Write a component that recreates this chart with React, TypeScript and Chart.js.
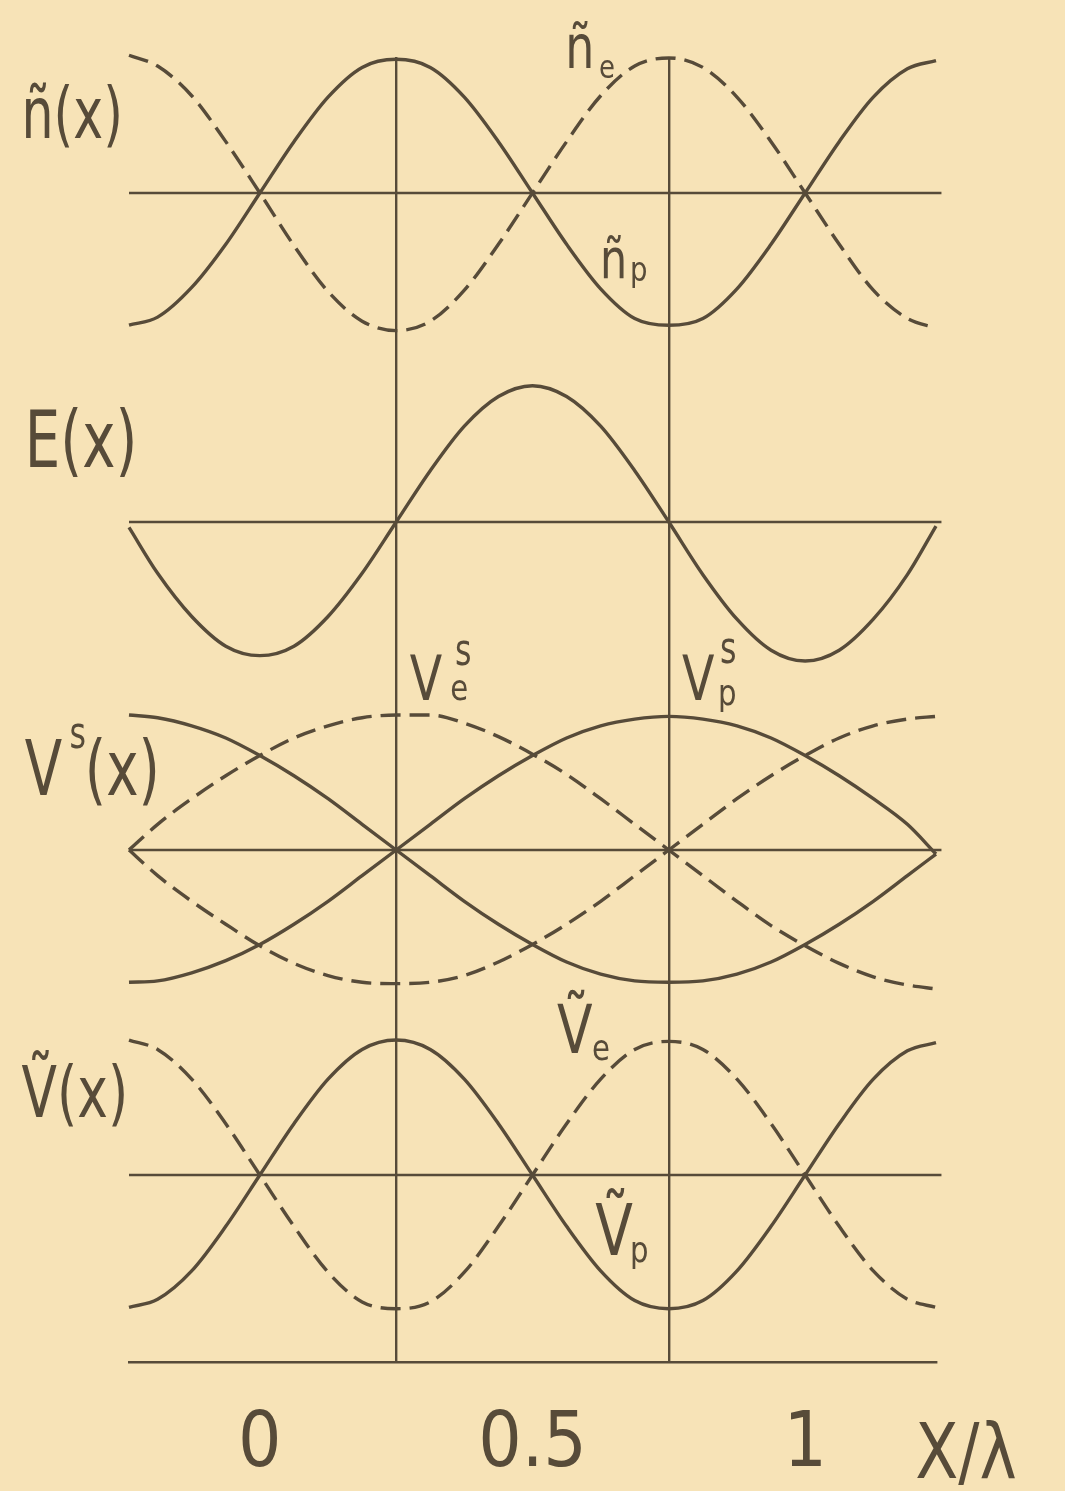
import React, { useEffect, useRef } from 'react';
import { Chart, registerables } from 'chart.js';

Chart.register(...registerables);

const INK = '#574b39';
const BG = '#f7e3b7';
const FONT = '"DejaVu Sans Condensed", "Liberation Sans Narrow", "DejaVu Sans", sans-serif';

// x / lambda sample positions
const XS = [-0.24, -0.1875, -0.125, -0.0625, 0, 0.0625, 0.125, 0.1875, 0.25, 0.3125, 0.375, 0.4375, 0.5,
  0.5625, 0.625, 0.6875, 0.75, 0.8125, 0.875, 0.9375, 1, 1.0625, 1.125, 1.1875, 1.24];
const X_TICKS = [0, 0.25, 0.5, 0.75, 1];
const X_TICK_LABELS = ['0', '', '0.5', '', '1'];
const GUIDE_X = [0.25, 0.75];
const BASE_X = [-0.24, 1.25];

// panel 1: density perturbations
const N_P = [-0.98, -0.92, -0.70, -0.38, 0.0, 0.38, 0.71, 0.93, 0.99, 0.93, 0.71, 0.38, 0.0,
  -0.38, -0.71, -0.93, -0.98, -0.93, -0.71, -0.38, 0.0, 0.38, 0.71, 0.92, 0.98];
const N_E = [1.02, 0.94, 0.72, 0.38, 0.0, -0.39, -0.73, -0.95, -1.02, -0.95, -0.72, -0.38, 0.0,
  0.38, 0.72, 0.94, 1.0, 0.93, 0.71, 0.38, 0.0, -0.38, -0.72, -0.93, -1.0];
// panel 2: field
const E_X = [-0.04, -0.38, -0.70, -0.92, -0.99, -0.92, -0.70, -0.38, 0.0, 0.38, 0.71, 0.93, 1.01,
  0.93, 0.71, 0.38, 0.0, -0.39, -0.72, -0.95, -1.03, -0.95, -0.72, -0.39, -0.03];
// panel 3: stationary velocities
const VS_A = [1.0, 0.98, 0.92, 0.83, 0.70, 0.55, 0.38, 0.19, 0.0, -0.19, -0.38, -0.55, -0.70,
  -0.83, -0.92, -0.97, -0.98, -0.97, -0.92, -0.83, -0.70, -0.55, -0.38, -0.19, -0.03];
const VS_B = [-0.98, -0.97, -0.91, -0.82, -0.70, -0.55, -0.38, -0.19, 0.0, 0.19, 0.38, 0.55, 0.70,
  0.83, 0.92, 0.97, 0.99, 0.97, 0.92, 0.83, 0.70, 0.55, 0.38, 0.19, -0.03];
const VS_C = [0.0, 0.19, 0.38, 0.55, 0.70, 0.83, 0.92, 0.98, 1.0, 1.0, 0.94, 0.84, 0.71,
  0.56, 0.38, 0.19, 0.0, -0.19, -0.38, -0.56, -0.71, -0.84, -0.94, -1.0, -1.03];
const VS_D = [0.0, -0.19, -0.38, -0.55, -0.71, -0.84, -0.93, -0.98, -0.99, -0.98, -0.93, -0.83, -0.70,
  -0.55, -0.38, -0.19, 0.0, 0.19, 0.38, 0.55, 0.70, 0.83, 0.92, 0.97, 0.99];
// panel 4: velocity perturbations
const V_P = [-0.98, -0.92, -0.71, -0.38, 0.0, 0.38, 0.71, 0.93, 1.0, 0.93, 0.71, 0.38, 0.0,
  -0.38, -0.71, -0.93, -0.99, -0.93, -0.71, -0.38, 0.0, 0.38, 0.71, 0.92, 0.98];
const V_E = [1.0, 0.93, 0.71, 0.38, 0.0, -0.38, -0.72, -0.94, -0.99, -0.94, -0.72, -0.38, 0.0,
  0.38, 0.71, 0.93, 0.99, 0.93, 0.71, 0.38, 0.0, -0.38, -0.71, -0.92, -0.98];

type Lbl = { t: string; x: number; y: number; axis: string; size: number; sx: number };

const LABELS: Lbl[] = [
  { t: 'ñ(x)', x: -0.437, y: 0.41, axis: 'p1', size: 72, sx: 0.78 },
  { t: 'ñ', x: 0.56, y: 0.926, axis: 'p1', size: 60, sx: 0.85 },
  { t: 'e', x: 0.622, y: 0.85, axis: 'p1', size: 32, sx: 0.9 },
  { t: 'ñ', x: 0.624, y: -0.63, axis: 'p1', size: 56, sx: 0.85 },
  { t: 'p', x: 0.679, y: -0.652, axis: 'p1', size: 34, sx: 0.9 },
  { t: 'E(x)', x: -0.431, y: 0.407, axis: 'p2', size: 78, sx: 0.8 },
  { t: 'V', x: -0.431, y: 0.407, axis: 'p3', size: 76, sx: 0.8 },
  { t: 's', x: -0.349, y: 0.756, axis: 'p3', size: 44, sx: 0.8 },
  { t: '(x)', x: -0.321, y: 0.407, axis: 'p3', size: 76, sx: 0.8 },
  { t: 'V', x: 0.275, y: 1.111, axis: 'p3', size: 62, sx: 0.85 },
  { t: 'e', x: 0.349, y: 1.111, axis: 'p3', size: 36, sx: 0.9 },
  { t: 's', x: 0.358, y: 1.37, axis: 'p3', size: 44, sx: 0.8 },
  { t: 'V', x: 0.774, y: 1.111, axis: 'p3', size: 62, sx: 0.85 },
  { t: 'p', x: 0.84, y: 1.074, axis: 'p3', size: 36, sx: 0.9 },
  { t: 's', x: 0.844, y: 1.385, axis: 'p3', size: 44, sx: 0.8 },
  { t: 'Ṽ(x)', x: -0.437, y: 0.43, axis: 'p4', size: 72, sx: 0.8 },
  { t: 'Ṽ', x: 0.545, y: 0.904, axis: 'p4', size: 68, sx: 0.85 },
  { t: 'e', x: 0.609, y: 0.852, axis: 'p4', size: 36, sx: 0.9 },
  { t: 'Ṽ', x: 0.615, y: -0.593, axis: 'p4', size: 72, sx: 0.85 },
  { t: 'p', x: 0.679, y: -0.644, axis: 'p4', size: 36, sx: 0.9 },
  { t: 'X/λ', x: 1.202, y: -2.244, axis: 'p4', size: 76, sx: 0.92 },
];

const bgPlugin = {
  id: 'paper',
  beforeDraw(chart: any) {
    const { ctx, width, height } = chart;
    ctx.save();
    ctx.fillStyle = BG;
    ctx.fillRect(0, 0, width, height);
    ctx.restore();
  },
};

const labelPlugin = {
  id: 'handLabels',
  afterDraw(chart: any) {
    const { ctx } = chart;
    const xs = chart.scales.x;
    for (const l of LABELS) {
      const px = xs.getPixelForValue(l.x);
      const py = chart.scales[l.axis].getPixelForValue(l.y);
      ctx.save();
      ctx.translate(px, py);
      ctx.scale(l.sx, 1);
      ctx.font = `200 ${l.size}px ${FONT}`;
      ctx.fillStyle = INK;
      ctx.textAlign = 'left';
      ctx.textBaseline = 'alphabetic';
      ctx.fillText(l.t, 0, 0);
      ctx.restore();
    }
  },
};

function curve(vals: number[], axis: string, dashed: boolean) {
  return {
    data: XS.map((x, i) => ({ x, y: vals[i] })),
    yAxisID: axis,
    borderColor: INK,
    borderWidth: 3.4,
    borderDash: dashed ? [20, 9] : [],
    pointRadius: 0,
    cubicInterpolationMode: 'monotone' as const,
    fill: false,
    clip: false as any,
  };
}

function baseline(axis: string) {
  return {
    data: BASE_X.map((x) => ({ x, y: 0 })),
    yAxisID: axis,
    borderColor: INK,
    borderWidth: 2.4,
    pointRadius: 0,
    fill: false,
    clip: false as any,
  };
}

function panelScale(min: number, max: number, weight: number) {
  return {
    type: 'linear' as const,
    axis: 'y' as const,
    position: 'left' as const,
    display: false,
    stack: 'panels',
    stackWeight: weight,
    min,
    max,
  };
}

export default function App() {
  const ref = useRef<HTMLCanvasElement | null>(null);
  useEffect(() => {
    document.body.style.margin = '0';
    document.body.style.background = BG;
    const canvas = ref.current;
    if (!canvas) return;
    const chart = new Chart(canvas, {
      type: 'line',
      data: {
        datasets: [
          baseline('p1'),
          curve(N_P, 'p1', false),
          curve(N_E, 'p1', true),
          baseline('p2'),
          curve(E_X, 'p2', false),
          baseline('p3'),
          curve(VS_A, 'p3', false),
          curve(VS_B, 'p3', false),
          curve(VS_C, 'p3', true),
          curve(VS_D, 'p3', true),
          baseline('p4'),
          curve(V_P, 'p4', false),
          curve(V_E, 'p4', true),
        ] as any,
      },
      options: {
        responsive: false,
        animation: false,
        devicePixelRatio: 1,
        layout: { padding: { left: 129, right: 129, top: 57, bottom: 0 } },
        plugins: { legend: { display: false }, tooltip: { enabled: false } },
        events: [],
        scales: {
          // stacked panels: the last-declared one is placed on top
          p4: panelScale(-1.385, 1.204, 349.5),
          p3: panelScale(-1.204, 1.215, 326.5),
          p2: panelScale(-1.215, 1.219, 328.5),
          p1: panelScale(-1.219, 1.007, 300.5),
          x: {
            type: 'linear',
            min: -0.24,
            max: 1.24,
            afterBuildTicks: (s: any) => {
              s.ticks = X_TICKS.map((v) => ({ value: v }));
            },
            afterFit: (s: any) => {
              s.height = 129;
            },
            ticks: {
              autoSkip: false,
              maxRotation: 0,
              padding: 46,
              color: INK,
              font: { family: FONT, size: 76, lineHeight: 1, weight: '200' },
              callback: (_v: any, i: number) => X_TICK_LABELS[i],
            },
            grid: {
              drawTicks: false,
              lineWidth: 2.4,
              color: (c: any) => (c.tick && GUIDE_X.includes(c.tick.value) ? INK : 'rgba(0,0,0,0)'),
            },
            border: { display: true, color: INK, width: 2.6 },
          },
        } as any,
      },
      plugins: [bgPlugin, labelPlugin],
    });
    return () => chart.destroy();
  }, []);
  return (
    <div style={{ width: 1065, height: 1491, background: BG }}>
      <canvas ref={ref} width={1065} height={1491} style={{ display: 'block' }} />
    </div>
  );
}
